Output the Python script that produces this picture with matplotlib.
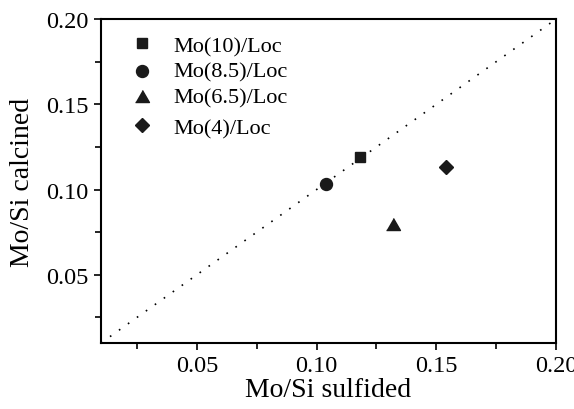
import matplotlib
matplotlib.use("Agg")
import matplotlib.pyplot as plt
from matplotlib.ticker import MultipleLocator

labels = ["Mo(10)/Loc", "Mo(8.5)/Loc", "Mo(6.5)/Loc", "Mo(4)/Loc"]
sulfided = [0.118, 0.104, 0.132, 0.154]
calcined = [0.119, 0.103, 0.080, 0.113]

tri = [(-1, -0.866), (1, -0.866), (0, 0.866)]
markers = ["s", "o", tri, "D"]
msizes = [7.7, 8.6, 10.0, 7.5]

plt.rcParams["font.family"] = ["Liberation Serif", "DejaVu Serif"]

fig = plt.figure(figsize=(5.74, 4.10), dpi=100)
ax = fig.add_axes([0.176, 0.161, 0.7927, 0.790])

ax.plot([0.01, 0.20], [0.01, 0.20], color="black", linestyle=(0, (1, 5.6)), linewidth=1.2)

for x, y, m, s in zip(sulfided, calcined, markers, msizes):
    ax.plot([x], [y], marker=m, markersize=s, color="#1a1a1a", linestyle="none")

# legend (manual, to match row spacing of reference)
mark_y = [0.926, 0.840, 0.763, 0.673]
text_y = [0.900, 0.822, 0.742, 0.648]
for m, s, l, my, ty in zip(markers, msizes, labels, mark_y, text_y):
    ax.plot([0.090], [my], marker=m, markersize=s, color="#1a1a1a",
            linestyle="none", transform=ax.transAxes, clip_on=False)
    ax.text(0.160, ty, l, transform=ax.transAxes, fontsize=16, va="baseline", ha="left")

ax.set_xlim(0.01, 0.20)
ax.set_ylim(0.01, 0.20)
ax.xaxis.set_major_locator(MultipleLocator(0.05))
ax.xaxis.set_minor_locator(MultipleLocator(0.025))
ax.yaxis.set_major_locator(MultipleLocator(0.05))
ax.yaxis.set_minor_locator(MultipleLocator(0.025))
ax.xaxis.set_major_formatter(plt.FuncFormatter(lambda v, p: f"{v:.2f}"))
ax.yaxis.set_major_formatter(plt.FuncFormatter(lambda v, p: f"{v:.2f}"))
ax.tick_params(which="both", direction="out", top=False, right=False, labelsize=17.5, width=1.2)
ax.tick_params(which="major", length=5, pad=4)
ax.tick_params(which="minor", length=4)
for sp in ax.spines.values():
    sp.set_linewidth(1.5)

ax.set_xlabel("Mo/Si sulfided", fontsize=20, labelpad=0.5)
ax.set_ylabel("Mo/Si calcined", fontsize=20, labelpad=8)

fig.savefig("out.png", dpi=100)
